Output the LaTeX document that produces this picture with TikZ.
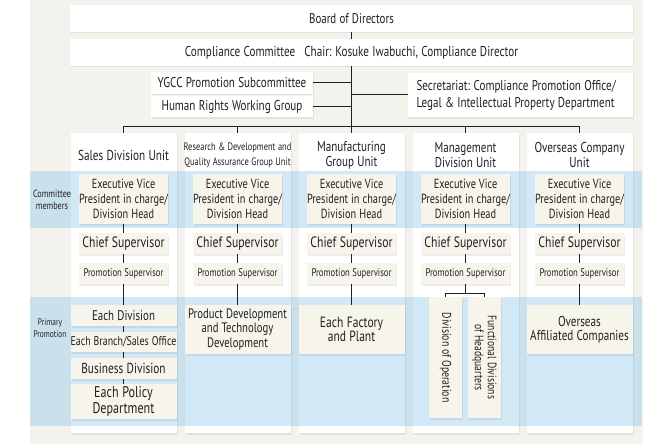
\documentclass[tikz,border=0pt]{standalone}
\usepackage{fontspec}
\setmainfont{PT Sans}[FakeStretch=0.78]
\usetikzlibrary{positioning, shadows}
\definecolor{crema}{HTML}{F4F2EC}
\definecolor{caixa}{HTML}{F7F4EC}
\definecolor{banda}{RGB}{140,200,235}
\definecolor{tinta}{HTML}{231F20}
\newcommand{\mida}[2]{\fontsize{#1}{#2}\selectfont}
\begin{document}
\begin{tikzpicture}[x=1pt, y=-1pt,
    every node/.style={text=tinta, execute at begin node={\spaceskip=0.23em\relax\xspaceskip=0.26em\relax}},
    ombra/.style={drop shadow={shadow xshift=1pt, shadow yshift=-1.5pt, opacity=0.15}},
    blanca/.style={fill=white, ombra, inner sep=0pt, align=center},
    capsa/.style={fill=caixa, ombra, inner sep=0pt, align=center},
    interna/.style={capsa, minimum width=89},
    linia/.style={tinta, line width=1pt}]
    % Fons i marges
    \useasboundingbox (0,0) rectangle (651,444);
    \fill[crema] (30,0) rectangle (643,444);
    % Consell i comite
    \node[blanca, minimum width=563, minimum height=27, font=\mida{14}{15}] (board) at (351.5,18.5) {Board of Directors};
    \node[blanca, minimum width=563, minimum height=27, font=\mida{14.3}{15}] (comite) at (351.5,52.5) {Compliance Committee\hspace{9pt}Chair: Kosuke Iwabuchi, Compliance Director};
    \node[blanca, minimum width=162, minimum height=22, font=\mida{14.2}{15}] (ygcc) at (232,83) {YGCC Promotion Subcommittee};
    \node[blanca, minimum width=162, minimum height=21, font=\mida{14.2}{15}] (drets) at (232,106.5) {Human Rights Working Group};
    \node[blanca, minimum width=225, minimum height=44, font=\mida{14.2}{17}, align=left, text width=208] (secre) at (520.5,95) {Secretariat: Compliance Promotion Office/\\Legal \& Intellectual Property Department};
    \coordinate (bus) at (351.5,126);
    % Columnes de les unitats
    \foreach \i in {0,...,4}
        \node[blanca, minimum width=106, minimum height=300] (col\i) at (123.5+114*\i,283) {};
    % Franges blaves
    \fill[banda, opacity=0.4] (30,171) rectangle (642,228);
    \fill[banda, opacity=0.4] (30,297) rectangle (642,426);
    \node[font=\mida{10.5}{12}, align=center] (membres) at (52,200) {Committee\\members};
    \node[font=\mida{9.5}{12}, align=center] (primaria) at (50,328) {Primary\\Promotion};
    % Linies principals
    \draw[linia] (board) -- (comite);
    \draw[linia] (comite) -- (bus);
    \draw[linia] (ygcc.east) -- (ygcc.east -| bus);
    \draw[linia] (drets.east) -- (drets.east -| bus);
    \draw[linia] (secre.west) -- (secre.west -| bus);
    \draw[linia] (col0.north |- bus) -- (col4.north |- bus);
    % Titols
    \node[font=\mida{14.4}{15}, align=center] (titol0) at (123.5,155) {Sales Division Unit};
    \node[font=\mida{10.8}{15}, align=center] (titol1) at (237.5,155) {Research \& Development and\\Quality Assurance Group Unit};
    \node[font=\mida{14.2}{15}, align=center] (titol2) at (351.5,155) {Manufacturing\\Group Unit};
    \node[font=\mida{14.2}{15}, align=center] (titol3) at (465.5,155) {Management\\Division Unit};
    \node[font=\mida{14.3}{15}, align=center] (titol4) at (579.5,155) {Overseas Company\\Unit};
    % Caps de cada unitat
    \foreach \i in {0,...,4} {
        \draw[linia] (col\i.north |- bus) -- (col\i.north);
        \node[interna, minimum height=50, font=\mida{13.2}{15}] (exec\i) at (123.5+114*\i,199) {Executive Vice\\President in charge/\\Division Head};
        \node[interna, minimum height=21, font=\mida{15}{16}] (cap\i) at (123.5+114*\i,243.5) {Chief Supervisor};
        \node[interna, minimum height=21, font=\mida{11.1}{13}] (promo\i) at (123.5+114*\i,273.5) {Promotion Supervisor};
        \draw[linia] (exec\i) -- (cap\i);
        \draw[linia] (cap\i) -- (promo\i);
    }
    % Promocio primaria
    \node[capsa, minimum width=106, minimum height=21, font=\mida{14}{15}] (divisio) at (123.5,315.5) {Each Division};
    \node[capsa, minimum width=106, minimum height=20, font=\mida{12.7}{15}] (sucursal) at (123.5,342) {Each Branch/Sales Office};
    \node[capsa, minimum width=106, minimum height=21, font=\mida{14.5}{15}] (negoci) at (123.5,368.5) {Business Division};
    \node[capsa, minimum width=106, minimum height=35, font=\mida{15.5}{12.5}] (politica) at (123.5,401.5) {Each Policy\\Department};
    \draw[linia] (promo0) -- (divisio);
    \draw[linia] (divisio) -- (sucursal);
    \draw[linia] (sucursal) -- (negoci);
    \draw[linia] (negoci) -- (politica);
    \node[capsa, minimum width=106, minimum height=49, font=\mida{13.7}{14.5}] (producte) at (237.5,329.5) {Product Development\\and Technology\\Development};
    \node[capsa, minimum width=106, minimum height=49, font=\mida{14.8}{14}] (fabrica) at (351.5,329.5) {Each Factory\\and Plant};
    \node[capsa, minimum width=106, minimum height=49, font=\mida{14.3}{14}] (filials) at (579.5,329.5) {Overseas\\Affiliated Companies};
    \draw[linia] (promo1) -- (producte);
    \draw[linia] (promo2) -- (fabrica);
    \draw[linia] (promo4) -- (filials);
    \node[capsa, rotate=-90, minimum width=121, minimum height=33, font=\mida{12.6}{13}] (operacio) at (445.5,357.5) {Division of Operation};
    \node[capsa, rotate=-90, minimum width=121, minimum height=33, font=\mida{12.3}{13}] (funcional) at (484.5,357.5) {Functional Divisions\\of Headquarters};
    \coordinate (branca) at (465.5,293);
    \draw[linia] (promo3) -- (branca);
    \draw[linia] (operacio.west |- branca) -- (funcional.west |- branca);
    \draw[linia] (operacio.west |- branca) -- (operacio.west);
    \draw[linia] (funcional.west |- branca) -- (funcional.west);
\end{tikzpicture}
\end{document}
